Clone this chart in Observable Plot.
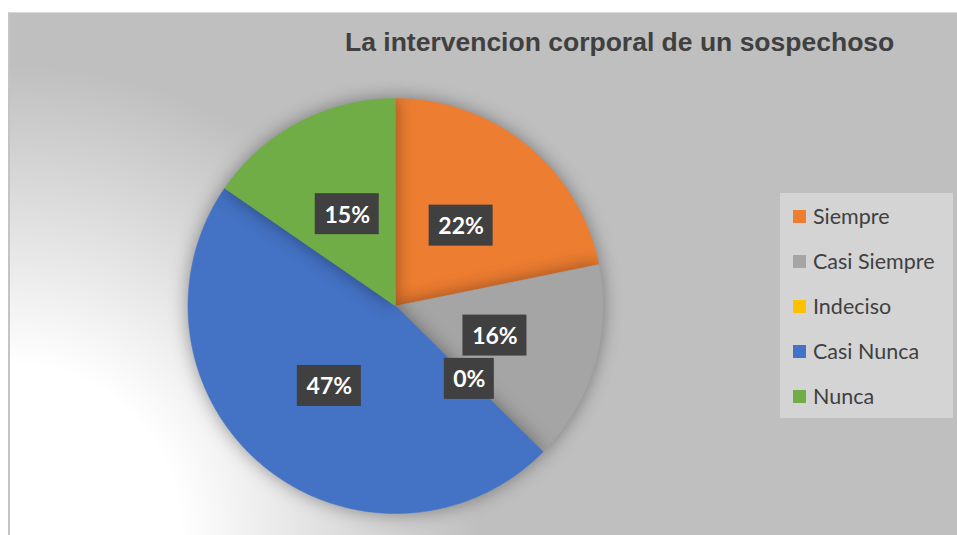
<!DOCTYPE html>
<html>
<head>
<meta charset="utf-8">
<script src="https://cdn.jsdelivr.net/npm/d3@7"></script>
<script src="https://cdn.jsdelivr.net/npm/@observablehq/plot@0.6"></script>
<style>
  html, body { margin: 0; padding: 0; background: #fff; }
  #wrap { position: relative; width: 957px; height: 535px; overflow: hidden; background: #fff; }
  #bg { position: absolute; left: 8px; top: 12px; width: 949px; height: 523px;
        border-left: 2px solid #c4c4c4; border-top: 1px solid #d9d9d9; box-sizing: border-box;
        background: radial-gradient(circle at 0% 100%, #ffffff 0px, #ffffff 170px, #bfbfbf 470px); }
  #chart { position: absolute; left: 0; top: 0; }
  #title { position: absolute; left: 0; width: 957px; top: 27px; text-align: left;
           font-family: "Liberation Sans", Arial, sans-serif; font-weight: bold; font-size: 26.5px;
           color: #404040; padding-left: 345px; box-sizing: border-box; white-space: nowrap; }
  #legend { position: absolute; left: 780px; top: 193px; width: 173px; height: 225px; background: #d4d4d4; }
  .li { position: absolute; left: 13px; height: 24px; display: flex; align-items: center;
        font-family: Lato, "Open Sans", sans-serif; font-size: 21.5px; color: #404040; white-space: nowrap; }
  .sw { width: 13px; height: 13px; margin-right: 7px; flex: none; }
  svg g[aria-label="slices"] { filter: drop-shadow(0 0 9px rgba(0,0,0,0.38)); }
  svg g[aria-label="boxes"] rect { filter: drop-shadow(2px 3px 2px rgba(0,0,0,0.45)); }
</style>
</head>
<body>
<div id="wrap">
  <div id="bg"></div>
  <div id="chart"></div>
  <div id="title"></div>
  <div id="legend"></div>
</div>
<script>
const title = "La intervencion corporal de un sospechoso";
const categories = ["Siempre", "Casi Siempre", "Indeciso", "Casi Nunca", "Nunca"];
const values = [21.8, 15.6, 0, 47.2, 15.4];
const labels = ["22%", "16%", "0%", "47%", "15%"];
const colors = ["#ED7D31", "#A5A5A5", "#FFC000", "#4472C4", "#70AD47"];

document.getElementById("title").textContent = title;

// pie geometry from data (unit radius, y up, clockwise from top)
const arcs = d3.pie().sort(null).value(d => d)(values);
const sliceRows = [];
arcs.forEach((a, i) => {
  if (a.endAngle - a.startAngle <= 0) return;
  const n = Math.max(2, Math.ceil((a.endAngle - a.startAngle) / (Math.PI / 360)));
  sliceRows.push({cat: categories[i], x: 0, y: 0, k: i});
  for (let j = 0; j <= n; j++) {
    const t = a.startAngle + (a.endAngle - a.startAngle) * j / n;
    sliceRows.push({cat: categories[i], x: Math.sin(t), y: Math.cos(t), k: i});
  }
  sliceRows.push({cat: categories[i], x: 0, y: 0, k: i});
});

const R = 207.5; // px per unit
const CX = 395, CY = 305.5;
const labelRows = arcs.map((a, i) => {
  const m = (a.startAngle + a.endAngle) / 2;
  const lx = 0.5 * Math.sin(m), ly = 0.5 * Math.cos(m);
  const hw = (labels[i].length > 2 ? 32 : 25) / R, hh = 20.5 / R;
  return {label: labels[i], x: lx, y: ly, x1: lx - hw, x2: lx + hw, y1: ly - hh, y2: ly + hh};
});

const sliceMarks = categories.map((c, i) =>
  Plot.line(sliceRows.filter(d => d.k === i), {x: "x", y: "y", fill: colors[i], stroke: colors[i], strokeWidth: 0.5, curve: "linear"})
);

const plot = Plot.plot({
  width: 957,
  height: 535,
  margin: 0,
  style: {background: "transparent", overflow: "visible"},
  x: {domain: [-1, 1], range: [CX - R, CX + R], axis: null},
  y: {domain: [-1, 1], range: [CY + R, CY - R], axis: null},
  marks: [
    ...sliceMarks,
    Plot.rect(labelRows, {x1: "x1", x2: "x2", y1: "y1", y2: "y2", fill: "#404040", ariaLabel: "boxes"}),
    Plot.text(labelRows, {x: "x", y: "y", text: "label", fill: "white", fontSize: 23, fontWeight: "bold",
      fontFamily: "Lato, 'Open Sans', sans-serif", dy: 1})
  ]
});
// group the slice paths under one label for the shadow
plot.querySelectorAll('g[aria-label="line"]').forEach(g => g.setAttribute("aria-label", "slices"));
document.getElementById("chart").appendChild(plot);

// legend
const leg = document.getElementById("legend");
categories.forEach((c, i) => {
  const row = document.createElement("div");
  row.className = "li";
  row.style.top = (11 + i * 45) + "px";
  const sw = document.createElement("span");
  sw.className = "sw";
  sw.style.background = colors[i];
  const tx = document.createElement("span");
  tx.textContent = c;
  row.appendChild(sw); row.appendChild(tx);
  leg.appendChild(row);
});
</script>
</body>
</html>
